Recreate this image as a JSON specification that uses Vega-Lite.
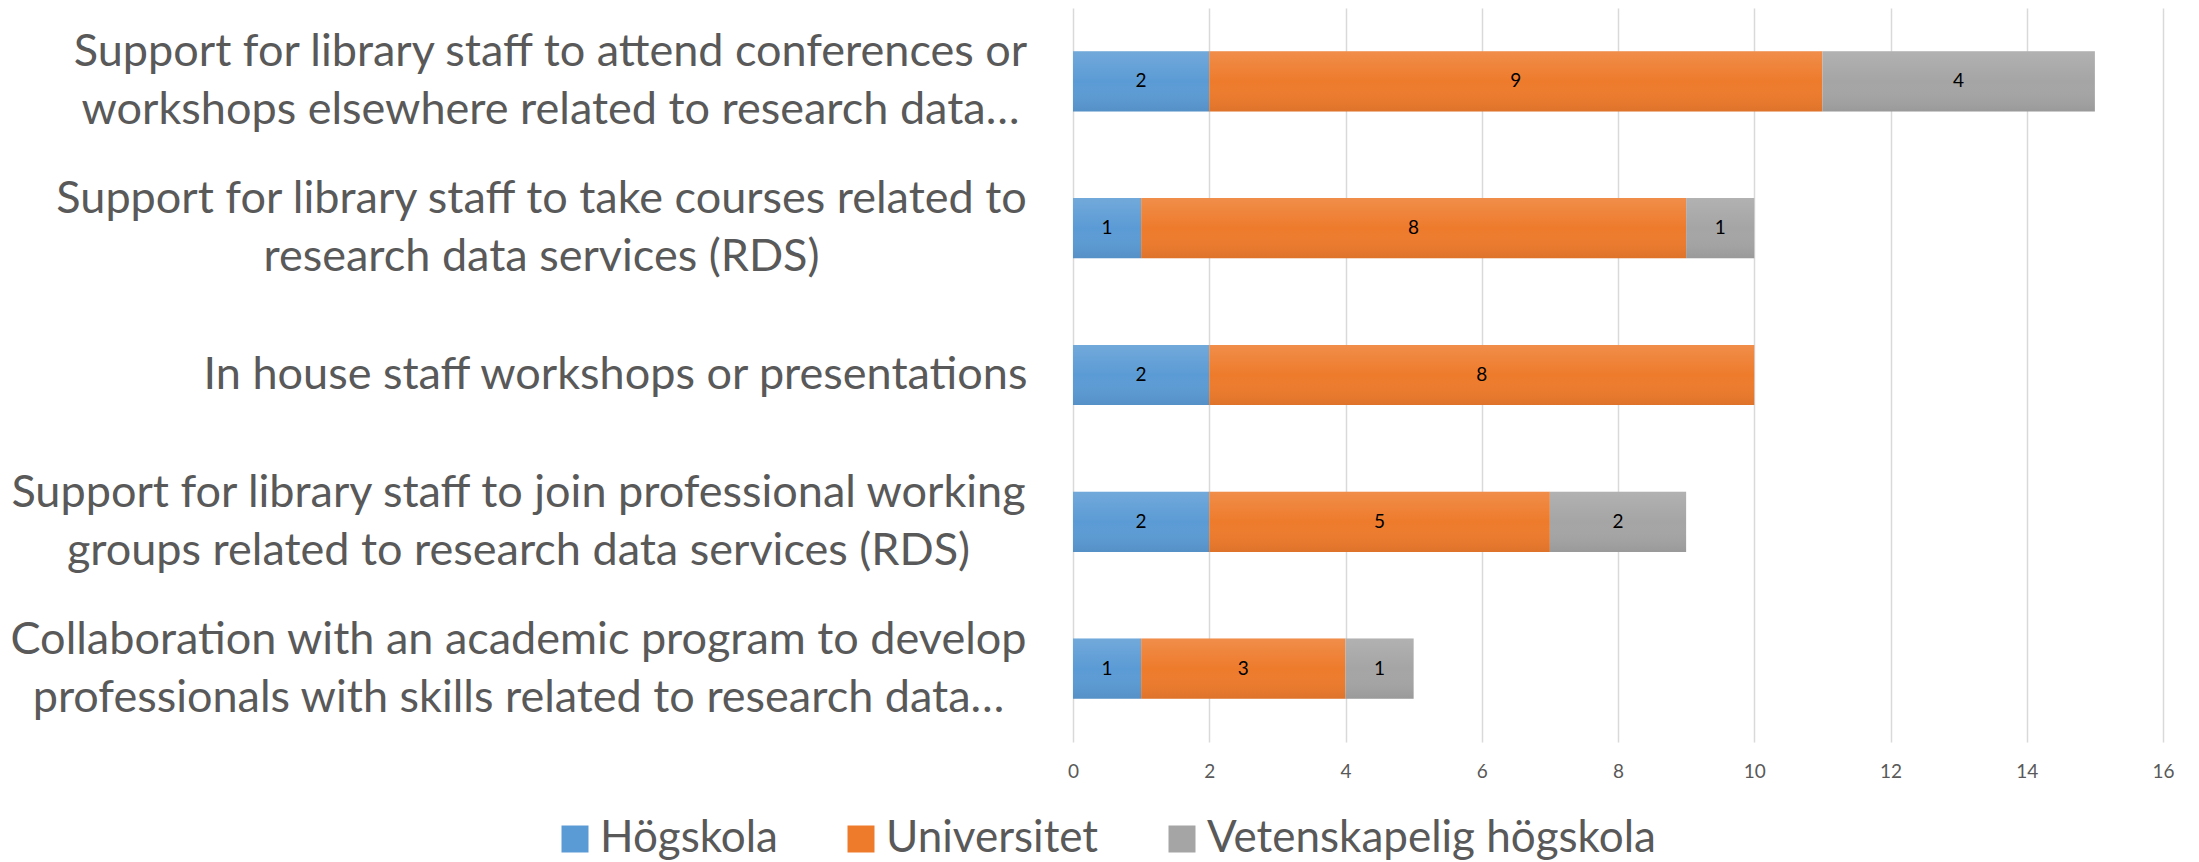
{
  "$schema": "https://vega.github.io/schema/vega-lite/v6.json",
  "autosize": {"type": "none"},
  "padding": {"left": 1073, "top": 8, "right": 36, "bottom": 120},
  "width": 1090,
  "height": 734,
  "background": "white",
  "config": {
    "view": {"stroke": null},
    "font": "Lato"
  },
  "data": {
    "values": [
      {"cat": "Support for library staff to attend conferences or|workshops elsewhere related to research data…", "series": "Högskola", "ord": 1, "value": 2},
      {"cat": "Support for library staff to attend conferences or|workshops elsewhere related to research data…", "series": "Universitet", "ord": 2, "value": 9},
      {"cat": "Support for library staff to attend conferences or|workshops elsewhere related to research data…", "series": "Vetenskapelig högskola", "ord": 3, "value": 4},
      {"cat": "Support for library staff to take courses related to|research data services (RDS)", "series": "Högskola", "ord": 1, "value": 1},
      {"cat": "Support for library staff to take courses related to|research data services (RDS)", "series": "Universitet", "ord": 2, "value": 8},
      {"cat": "Support for library staff to take courses related to|research data services (RDS)", "series": "Vetenskapelig högskola", "ord": 3, "value": 1},
      {"cat": "In house staff workshops or presentations", "series": "Högskola", "ord": 1, "value": 2},
      {"cat": "In house staff workshops or presentations", "series": "Universitet", "ord": 2, "value": 8},
      {"cat": "Support for library staff to join professional working|groups related to research data services (RDS)", "series": "Högskola", "ord": 1, "value": 2},
      {"cat": "Support for library staff to join professional working|groups related to research data services (RDS)", "series": "Universitet", "ord": 2, "value": 5},
      {"cat": "Support for library staff to join professional working|groups related to research data services (RDS)", "series": "Vetenskapelig högskola", "ord": 3, "value": 2},
      {"cat": "Collaboration with an academic program to develop|professionals with skills related to research data…", "series": "Högskola", "ord": 1, "value": 1},
      {"cat": "Collaboration with an academic program to develop|professionals with skills related to research data…", "series": "Universitet", "ord": 2, "value": 3},
      {"cat": "Collaboration with an academic program to develop|professionals with skills related to research data…", "series": "Vetenskapelig högskola", "ord": 3, "value": 1}
    ]
  },
  "transform": [
    {"stack": "value", "groupby": ["cat"], "sort": [{"field": "ord"}], "as": ["x0", "x1"]},
    {"calculate": "(datum.x0 + datum.x1) / 2", "as": "mid"}
  ],
  "encoding": {
    "y": {
      "field": "cat",
      "type": "nominal",
      "sort": null,
      "scale": {"paddingInner": 0.59, "paddingOuter": 0.295},
      "axis": {
        "title": null,
        "domain": false,
        "ticks": false,
        "grid": false,
        "labelExpr": "split(datum.label, '|')",
        "labelFont": "Lato",
        "labelFontSize": 45,
        "labelColor": "#595959",
        "labelLineHeight": 58,
        "labelLimit": 2000,
        "labelAlign": "center",
        "labelPadding": {
          "condition": [
            {"test": "indexof(datum.value, 'attend') >= 0", "value": 523},
            {"test": "indexof(datum.value, 'take courses') >= 0", "value": 532},
            {"test": "indexof(datum.value, 'In house') >= 0", "value": 458}
          ],
          "value": 555
        },
        "labelOffset": {
          "condition": {"test": "indexof(datum.value, '|') >= 0", "value": -29},
          "value": 0
        }
      }
    }
  },
  "layer": [
    {
      "mark": {"type": "bar"},
      "encoding": {
        "x": {
          "field": "x0",
          "type": "quantitative",
          "scale": {"domain": [0, 16], "nice": false},
          "axis": {
            "title": null,
            "values": [0, 2, 4, 6, 8, 10, 12, 14, 16],
            "format": "d",
            "domain": false,
            "ticks": false,
            "grid": true,
            "gridColor": "#D9D9D9",
            "gridWidth": 1.5,
            "labelFlush": false,
            "labelFont": "Lato",
            "labelFontSize": 19,
            "labelColor": "#595959",
            "labelPadding": 20
          }
        },
        "x2": {"field": "x1"},
        "color": {
          "field": "series",
          "type": "nominal",
          "sort": ["Högskola", "Universitet", "Vetenskapelig högskola"],
          "scale": {
            "domain": ["Högskola", "Universitet", "Vetenskapelig högskola"],
            "range": ["#5B9BD5", "#EE7B2C", "#A5A5A5"]
          },
          "legend": {
            "title": null,
            "orient": "none",
            "direction": "horizontal",
            "legendX": -520,
            "legendY": 809,
            "symbolType": "square",
            "symbolSize": 729,
            "symbolStrokeWidth": 0,
            "symbolOpacity": 1,
            "labelFont": "Lato",
            "labelFontSize": 44,
            "labelColor": "#595959",
            "labelOffset": 3,
            "columnPadding": 61,
            "labelLimit": 1000
          }
        }
      }
    },
    {
      "mark": {
        "type": "bar",
        "color": {"gradient": "linear", "x1": 0, "y1": 0, "x2": 0, "y2": 1, "stops": [{"offset": 0, "color": "rgba(255,255,255,0.14)"}, {"offset": 0.5, "color": "rgba(255,255,255,0.0)"}, {"offset": 1, "color": "rgba(0,0,0,0.07)"}]}
      },
      "encoding": {
        "x": {"field": "x0", "type": "quantitative"},
        "x2": {"field": "x1"}
      }
    },
    {
      "mark": {"type": "text", "fontSize": 19, "color": "#000000", "font": "Lato"},
      "encoding": {
        "x": {"field": "mid", "type": "quantitative"},
        "text": {"field": "value", "type": "quantitative"}
      }
    }
  ]
}
